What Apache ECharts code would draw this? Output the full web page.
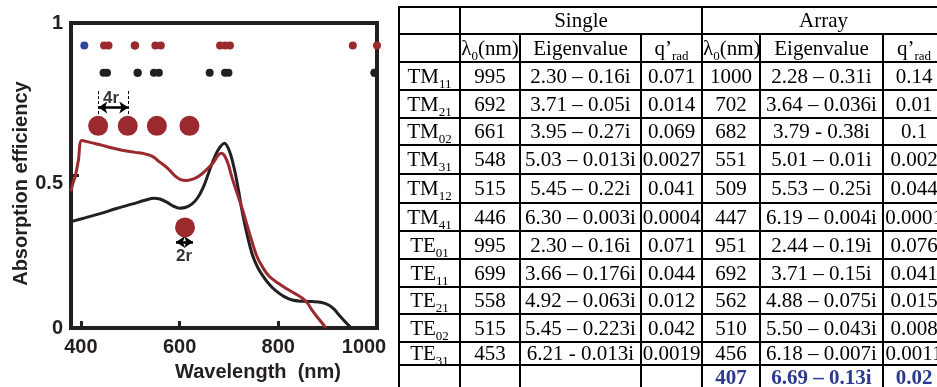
<!DOCTYPE html>
<html>
<head>
<meta charset="utf-8">
<script src="https://cdn.jsdelivr.net/npm/echarts@6/dist/echarts.min.js"></script>
<style>
  html, body { margin:0; padding:0; background:#fff; overflow:hidden; width:937px; height:387px; }
  #chart { position:absolute; left:0; top:0; width:937px; height:387px; }
  #tbl { position:absolute; left:398px; top:6px; width:546px; border-collapse:collapse; table-layout:fixed;
         font-family:"Liberation Serif","Times New Roman",serif; font-size:21px; color:#000; z-index:2; }
  #tbl td { border:2px solid #000; padding:0; text-align:center; vertical-align:middle; white-space:nowrap; overflow:visible; line-height:1; }
  #tbl sub { font-size:13px; vertical-align:baseline; position:relative; top:5px; }
  #tbl .blue { color:#2b3990; font-weight:bold; }
</style>
</head>
<body>
<div id="chart"></div>
<table id="tbl"></table>
<script>
// ---------- data ----------
const xTicks = [400, 600, 800, 1000];
const xTickMarks = [400, 600, 800];
const redCurve = [[380,0.448],[384,0.475],[389,0.50],[395,0.55],[402,0.615],[420,0.608],[439,0.601],[462,0.591],[486,0.582],[510,0.576],[530,0.571],[545,0.563],[560,0.544],[575,0.525],[590,0.500],[602,0.487],[614,0.484],[627,0.488],[641,0.500],[655,0.520],[668,0.542],[678,0.566],[684,0.573],[690,0.568],[698,0.540],[707,0.489],[717,0.440],[727,0.391],[742,0.309],[756,0.238],[770,0.195],[782,0.169],[800,0.147],[816,0.130],[832,0.115],[849,0.098],[860,0.080],[869,0.057],[883,0.028],[897,0]];
const blackCurve = [[380,0.349],[410,0.362],[439,0.375],[472,0.392],[505,0.407],[530,0.419],[548,0.426],[560,0.423],[574,0.413],[587,0.400],[600,0.393],[613,0.396],[626,0.408],[637,0.428],[647,0.458],[657,0.500],[667,0.545],[679,0.586],[691,0.606],[701,0.580],[711,0.521],[719,0.455],[727,0.381],[737,0.305],[748,0.238],[758,0.200],[768,0.173],[782,0.143],[796,0.121],[812,0.103],[828,0.092],[848,0.088],[869,0.087],[888,0.084],[903,0.075],[913,0.062],[923,0.043],[936,0.020],[948,0]];

const modeBase = ['TM','TM','TM','TM','TM','TM','TE','TE','TE','TE','TE'];
const modeSub  = ['11','21','02','31','12','41','01','11','21','02','31'];
const singleLambda = [995,692,661,548,515,446,995,699,558,515,453];
const singleEigen = ['2.30 – 0.16i','3.71 – 0.05i','3.95 – 0.27i','5.03 – 0.013i','5.45 – 0.22i','6.30 – 0.003i','2.30 – 0.16i','3.66 – 0.176i','4.92 – 0.063i','5.45 – 0.223i','6.21 - 0.013i'];
const singleQ = ['0.071','0.014','0.069','0.0027','0.041','0.0004','0.071','0.044','0.012','0.042','0.0019'];
const arrayLambda = [1000,702,682,551,509,447,951,692,562,510,456];
const arrayEigen = ['2.28 – 0.31i','3.64 – 0.036i','3.79 - 0.38i','5.01 – 0.01i','5.53 – 0.25i','6.19 – 0.004i','2.44 – 0.19i','3.71 – 0.15i','4.88 – 0.075i','5.50 – 0.043i','6.18 – 0.007i'];
const arrayQ = ['0.14','0.01','0.1','0.002','0.044','0.0001','0.076','0.041','0.015','0.008','0.0011'];
const collectiveLambda = [407];
const collectiveEigen = ['6.69 – 0.13i'];
const collectiveQ = ['0.02'];

const arrayDotLevel = 0.926;
const singleDotLevel = 0.837;
const arrayCircles = [[435,0.663],[495,0.663],[554,0.663],[620,0.663]];
const singleCircle = [[611,0.330]];
const arrow4r = [[435.3,0.723],[496.1,0.723]];
const dash4r = [[[435.3,0.777],[435.3,0.701]],[[496.1,0.777],[496.1,0.701]]];
const arrow2r = [[592.8,0.282],[627.2,0.282]];
const annotText = [{name:'4r', value:[461,0.753]},{name:'2r', value:[609,0.234]}];

// ---------- table ----------
const colWidths = [61,60,121,61,58,123,62];
const rowHeights = [27,28,28,28,27,29,29,28,28,28,27,28,20,25];
(function buildTable(){
  const t = document.getElementById('tbl');
  let h = '<colgroup>' + colWidths.map(w=>'<col style="width:'+w+'px">').join('') + '</colgroup>';
  let r = 0;
  h += '<tr style="height:'+rowHeights[r++]+'px"><td></td><td colspan="3">Single</td><td colspan="3">Array</td></tr>';
  const hdr = '<td>λ<sub>0</sub>(nm)</td><td>Eigenvalue</td><td>q’<sub>rad</sub></td>';
  h += '<tr style="height:'+rowHeights[r++]+'px"><td></td>'+hdr+hdr+'</tr>';
  for (let i=0;i<modeBase.length;i++){
    h += '<tr style="height:'+rowHeights[r++]+'px"><td>'+modeBase[i]+'<sub>'+modeSub[i]+'</sub></td>'+
      '<td>'+singleLambda[i]+'</td><td>'+singleEigen[i]+'</td><td>'+singleQ[i]+'</td>'+
      '<td>'+arrayLambda[i]+'</td><td>'+arrayEigen[i]+'</td><td>'+arrayQ[i]+'</td></tr>';
  }
  h += '<tr style="height:'+rowHeights[r++]+'px"><td></td><td></td><td></td><td></td>'+
    '<td class="blue">'+collectiveLambda[0]+'</td><td class="blue">'+collectiveEigen[0]+'</td><td class="blue">'+collectiveQ[0]+'</td></tr>';
  t.innerHTML = h;
})();

// ---------- chart ----------
const ink = '#231f20';
const red = '#9b2a2f';
const blue = '#2f47a0';
const lblFont = { fontFamily:'Liberation Sans', fontWeight:'bold', fontSize:20, color:ink };
const chart = echarts.init(document.getElementById('chart'), null, {renderer:'canvas'});
chart.setOption({
  animation:false,
  backgroundColor:'#fff',
  grid:{ left:71, top:23, right:560, bottom:56, show:true, borderColor:ink, borderWidth:4, backgroundColor:'transparent' },
  xAxis:{
    type:'value', min:380, max:1000,
    name:'Wavelength  (nm)', nameLocation:'middle', nameGap:29,
    nameTextStyle:Object.assign({ padding:[0,0,0,68] }, lblFont),
    axisLine:{show:false},
    axisTick:{ show:true, inside:true, length:7, lineStyle:{color:ink, width:3}, customValues:xTickMarks },
    axisLabel:Object.assign({ customValues:xTicks, margin:9,
      formatter: v => v===1000 ? '{s|1000}' : String(v),
      rich:{ s:Object.assign({ padding:[0,26,0,0] }, lblFont) } }, lblFont),
    splitLine:{show:false}
  },
  yAxis:{
    type:'value', min:0, max:1, interval:0.5,
    name:'Absorption efficiency', nameLocation:'middle', nameGap:38,
    nameTextStyle:Object.assign({ padding:[0,16,0,0] }, lblFont),
    axisLine:{show:false},
    axisTick:{ show:true, inside:true, length:8, lineStyle:{color:ink, width:3} },
    axisLabel:Object.assign({ margin:8,
      formatter: v => v===0.5 ? '{m|0.5}' : String(v),
      rich:{ m:Object.assign({ padding:[16,0,0,0] }, lblFont) } }, lblFont),
    splitLine:{show:false}
  },
  series:[
    { type:'line', data:blackCurve, showSymbol:false, smooth:0.35, lineStyle:{color:ink, width:3}, z:3 },
    { type:'line', data:redCurve, showSymbol:false, smooth:0.35, lineStyle:{color:red, width:3}, z:4 },
    { type:'scatter', data:arrayLambda.map(l=>[l,arrayDotLevel]), symbolSize:8, itemStyle:{color:red, opacity:1}, z:5 },
    { type:'scatter', data:singleLambda.map(l=>[l,singleDotLevel]), symbolSize:8, itemStyle:{color:ink, opacity:1}, z:5 },
    { type:'scatter', data:collectiveLambda.map(l=>[l,arrayDotLevel]), symbolSize:8, itemStyle:{color:blue, opacity:1}, z:5 },
    { type:'scatter', data:arrayCircles.concat(singleCircle), symbolSize:20, itemStyle:{color:red, opacity:1}, z:5 },
    { type:'scatter', data:[], silent:true,
      markLine:{ silent:true, animation:false, symbol:['arrow','arrow'], symbolSize:[9,9], label:{show:false},
        lineStyle:{color:'#000', width:2.5, type:'solid'},
        data:[ [{coord:arrow4r[0]},{coord:arrow4r[1]}], [{coord:arrow2r[0]},{coord:arrow2r[1]}] ] } },
    { type:'scatter', data:[], silent:true,
      markLine:{ silent:true, animation:false, symbol:['none','none'], label:{show:false},
        lineStyle:{color:'#000', width:1, type:[3,2]},
        data: dash4r.map(d=>[{coord:d[0]},{coord:d[1]}]) } },
    { type:'scatter', data:annotText, symbolSize:0, silent:true,
      label:{ show:true, position:'inside', formatter:p=>p.name, fontFamily:'Liberation Sans', fontWeight:'bold', fontSize:17, color:'#000' } }
  ]
});
</script>
</body>
</html>
